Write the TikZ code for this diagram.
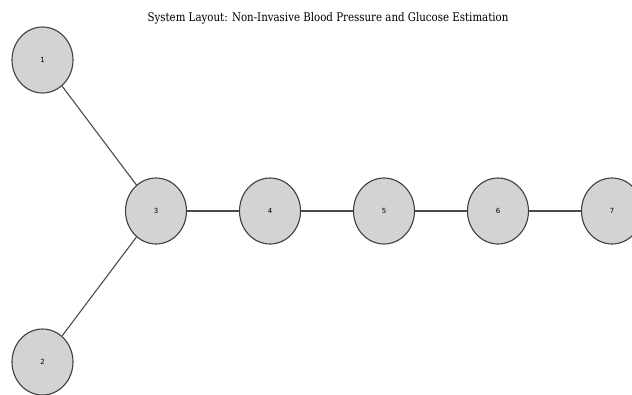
\documentclass[tikz,border=0pt]{standalone}
\usepackage{fontspec}
\setmainfont{DejaVu Serif}
\newfontfamily\labelfont{DejaVu Sans}
\usetikzlibrary{shapes.geometric}
\usepackage{xcolor}
\definecolor{nodefill}{HTML}{D3D3D3}
\definecolor{nodeline}{HTML}{3F3F3F}
\definecolor{edgeline}{HTML}{4A4A4A}

\begin{document}
\begin{tikzpicture}[x=1pt,y=-1pt]
    \useasboundingbox (0,0) rectangle (632,394);
    \clip (0,0) rectangle (632,394);

    \node[transform shape,xscale=0.86,font=\fontsize{11.9}{14}\selectfont] (title) at (328,18)
      {System Layout: Non-Invasive Blood Pressure and Glucose Estimation};

    \begin{scope}[every node/.style={ellipse,draw=nodeline,line width=1.1pt,fill=nodefill,
        minimum width=61pt,minimum height=66pt,inner sep=0pt,
        font=\labelfont\fontsize{7}{8}\selectfont}]
      \node (1) at (42.5,60) {1};
      \node (2) at (42.5,362) {2};
      \node (3) at (156,211) {3};
      \node (4) at (270,211) {4};
      \node (5) at (384,211) {5};
      \node (6) at (498,211) {6};
      \node (7) at (612,211) {7};
    \end{scope}

    \begin{scope}[every edge/.style={draw=edgeline,line width=1.1pt}]
      \path (1) edge (3);
      \path (2) edge (3);
      \path (3) edge (4);
      \path (4) edge (5);
      \path (5) edge (6);
      \path (6) edge (7);
    \end{scope}
  \end{tikzpicture}
\end{document}
